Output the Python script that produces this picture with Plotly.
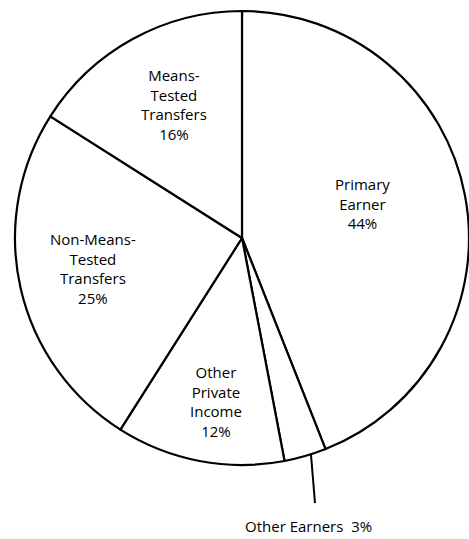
import plotly.graph_objects as go

# Data
categories = ["Primary Earner", "Other Earners", "Other Private Income",
              "Non-Means-Tested Transfers", "Means-Tested Transfers"]
shares = [44, 3, 12, 25, 16]
label_texts = ["Primary<br>Earner<br>44%", "Other Earners  3%",
               "Other<br>Private<br>Income<br>12%",
               "Non-Means-<br>Tested<br>Transfers<br>25%",
               "Means-<br>Tested<br>Transfers<br>16%"]

W, H = 469, 539

def px(x, y):
    return x / W, 1 - y / H

fig = go.Figure()
fig.add_trace(go.Pie(
    labels=categories, values=shares, sort=False, direction="clockwise",
    rotation=0, textinfo="none", hoverinfo="label+percent",
    marker=dict(colors=["white"] * len(shares), line=dict(color="black", width=2.2)),
    domain=dict(x=[15 / W, 1.0], y=[(H - 466) / H, (H - 10) / H]),
    showlegend=False,
))

label_pos = [(362, 203), (308, 526), (216, 401), (93, 268), (174, 105)]
font = dict(family="Open Sans, Liberation Sans, sans-serif", size=15, color="black")
for txt, (x, y) in zip(label_texts, label_pos):
    ax, ay = px(x, y)
    fig.add_annotation(x=ax, y=ay, xref="paper", yref="paper", text=txt,
                       showarrow=False, xanchor="center", yanchor="middle",
                       font=font, align="center")

# leader line for the small slice (starts on the arc)
x0, y0 = px(311, 455)
x1, y1 = px(315, 503)
fig.add_shape(type="line", xref="paper", yref="paper", x0=x0, y0=y0, x1=x1, y1=y1,
              line=dict(color="black", width=2))

fig.update_layout(width=W, height=H, margin=dict(l=0, r=0, t=0, b=0),
                  paper_bgcolor="white", plot_bgcolor="white")
fig.write_html("out.html", config={"displayModeBar": False},
               post_script="document.body.style.margin='0';document.body.style.overflow='hidden';")
